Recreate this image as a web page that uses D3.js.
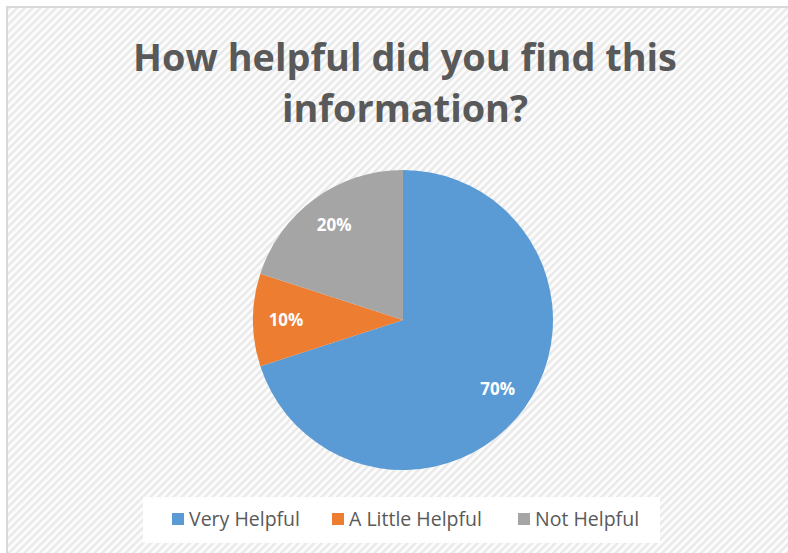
<!DOCTYPE html>
<html>
<head>
<meta charset="utf-8">
<script src="https://cdn.jsdelivr.net/npm/d3@7"></script>
<style>
  body { margin: 0; background: #fff; }
  svg { display: block; }
</style>
</head>
<body>
<div id="chart"></div>
<script>
// chart data
var categories = ["Very Helpful", "A Little Helpful", "Not Helpful"];
var values = [70, 10, 20];
var colours = ["#5b9bd5", "#ed7d31", "#a5a5a5"];
var titleLines = ["How helpful did you find this", "information?"];

function init(){
	var width = 788;
	var height = 553;

	var svg = d3.select("#chart").append("svg")
				.attr("width", width)
				.attr("height", height);

	//diagonal stripes used as the chart area background
	var defs = svg.append("defs");
	var pattern = defs.append("pattern")
					  .attr("id", "stripes")
					  .attr("width", 5.5)
					  .attr("height", 5.5)
					  .attr("patternUnits", "userSpaceOnUse")
					  .attr("patternTransform", "rotate(45)");
	pattern.append("rect").attr("width", 5.5).attr("height", 5.5).attr("fill", "#fcfcfc");
	pattern.append("rect").attr("width", 2.5).attr("height", 5.5).attr("fill", "#e9e9e9");

	svg.append("rect")
	   .attr("x", 7).attr("y", 7)
	   .attr("width", width).attr("height", height)
	   .attr("fill", "url(#stripes)")
	   .attr("stroke", "#d9d9d9")
	   .attr("stroke-width", 2);

	//title
	var title = svg.append("g");
	title.selectAll("text").data(titleLines).enter()
		 .append("text")
		 .attr("x", 405)
		 .attr("y", (d, i) => 71 + i * 51)
		 .attr("text-anchor", "middle")
		 .attr("fill", "#595959")
		 .style("font-family", "'Open Sans', sans-serif")
		 .style("font-weight", "bold")
		 .style("font-size", "40px")
		 .text(d => d);

	//shrink title to the reference width
	var first = title.select("text").node();
	var w = first.getComputedTextLength();
	var fs = 40 * 544 / w;
	title.selectAll("text").style("font-size", fs + "px");

	//pie
	var cx = 403, cy = 320, radius = 150;
	var pie = d3.pie().sort(null).value(d => d);
	var arc = d3.arc().innerRadius(0).outerRadius(radius);
	var total = d3.sum(values);

	var arcs = svg.append("g")
				  .attr("transform", "translate(" + cx + "," + cy + ")")
				  .selectAll("g.slice")
				  .data(pie(values))
				  .enter().append("g");

	arcs.append("path")
		.attr("d", arc)
		.attr("fill", (d, i) => colours[i]);

	var labelArc = d3.arc().innerRadius(radius * 0.78).outerRadius(radius * 0.78);
	arcs.append("text")
		.attr("transform", d => "translate(" + labelArc.centroid(d) + ")")
		.attr("text-anchor", "middle")
		.attr("dy", "0.35em")
		.attr("fill", "white")
		.style("font-family", "'Open Sans', sans-serif")
		.style("font-weight", "bold")
		.style("font-size", "17px")
		.text(d => Math.round(d.value / total * 100) + "%");

	//legend
	svg.append("rect")
	   .attr("x", 143).attr("y", 497)
	   .attr("width", 517).attr("height", 46)
	   .attr("fill", "#ffffff");

	var legendX = [172, 332, 518];
	var legend = svg.selectAll("g.legend").data(categories).enter()
					.append("g")
					.attr("transform", (d, i) => "translate(" + legendX[i] + ",513)");

	legend.append("rect")
		  .attr("width", 12)
		  .attr("height", 12)
		  .attr("fill", (d, i) => colours[i]);

	legend.append("text")
		  .attr("x", 17)
		  .attr("y", 13)
		  .attr("fill", "#595959")
		  .style("font-family", "'Open Sans', sans-serif")
		  .style("font-size", "19.5px")
		  .text(d => d);
}

window.onload = init;
</script>
</body>
</html>
